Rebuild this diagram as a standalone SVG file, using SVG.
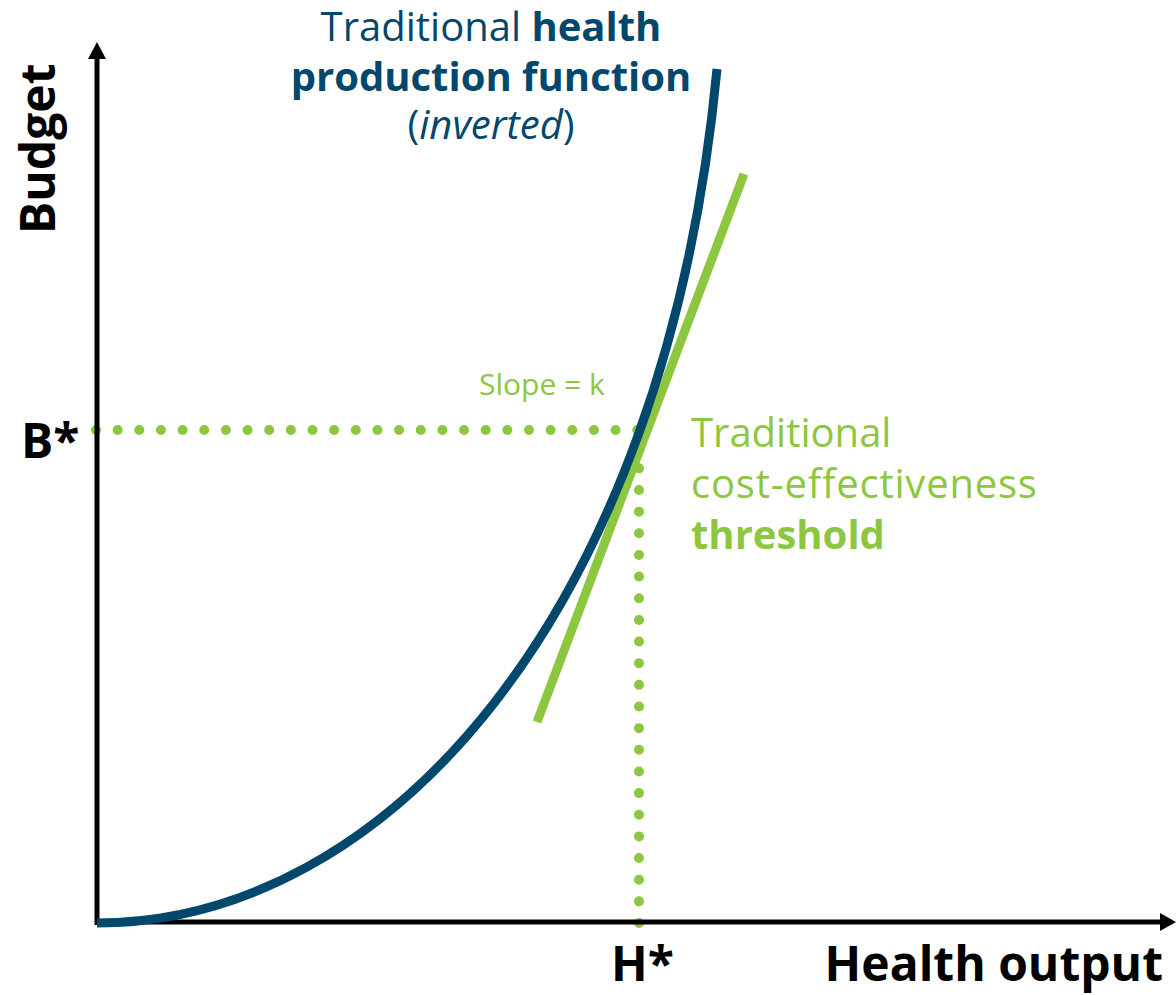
<svg xmlns="http://www.w3.org/2000/svg" width="1176" height="995" viewBox="0 0 1176 995">
<style>
.axis{stroke:#000;stroke-width:5;fill:none}
.head{fill:#000}
.dots{stroke:#8dc63f;stroke-width:10;stroke-linecap:round;stroke-dasharray:0 21.65;fill:none}
.tangent{stroke:#8dc63f;stroke-width:9;fill:none}
.curve{stroke:#02476c;stroke-width:9;fill:none}
.lbl{font-family:"Open Sans","DejaVu Sans",sans-serif;font-weight:700;fill:#000;font-size:48px}
.title{font-family:"Open Sans","DejaVu Sans",sans-serif;fill:#02476c;font-size:40px}
.green{font-family:"Open Sans","DejaVu Sans",sans-serif;fill:#8dc63f}
</style>
<g id="connectors">
<path class="dots" d="M96,430 H640"/>
<path class="dots" d="M639,923 V447"/>
<path class="axis" d="M97,925 V56"/>
<polygon class="head" points="97,42 88,59 106,59"/>
<path class="axis" d="M95,922 H1162"/>
<polygon class="head" points="1176,922 1160,913 1160,931"/>
<line class="tangent" x1="537" y1="722" x2="744" y2="174"/>
<path class="curve" d="M97,923 C383,923 665,619 717,69"/>
</g>
<g id="title">
<text class="title" x="491" y="41" text-anchor="middle">Traditional <tspan font-weight="700">health</tspan></text>
<text class="title" x="491" y="91" text-anchor="middle" font-weight="700">production function</text>
<text class="title" x="491" y="139" text-anchor="middle">(<tspan font-style="italic">inverted</tspan>)</text>
</g>
<g id="slope"><text class="green" x="479" y="395" font-size="30">Slope = k</text></g>
<g id="threshold">
<text class="green" x="691" y="447" font-size="40">Traditional</text>
<text class="green" x="691" y="498" font-size="40" letter-spacing="0.8">cost-effectiveness</text>
<text class="green" x="691" y="549" font-size="40" font-weight="700">threshold</text>
</g>
<g id="budget"><text class="lbl" transform="translate(55,234) rotate(-90)">Budget</text></g>
<g id="bstar"><text class="lbl" x="21" y="458">B*</text></g>
<g id="hstar"><text class="lbl" x="611" y="981">H*</text></g>
<g id="health"><text class="lbl" x="1163" y="981" text-anchor="end">Health output</text></g>
</svg>
